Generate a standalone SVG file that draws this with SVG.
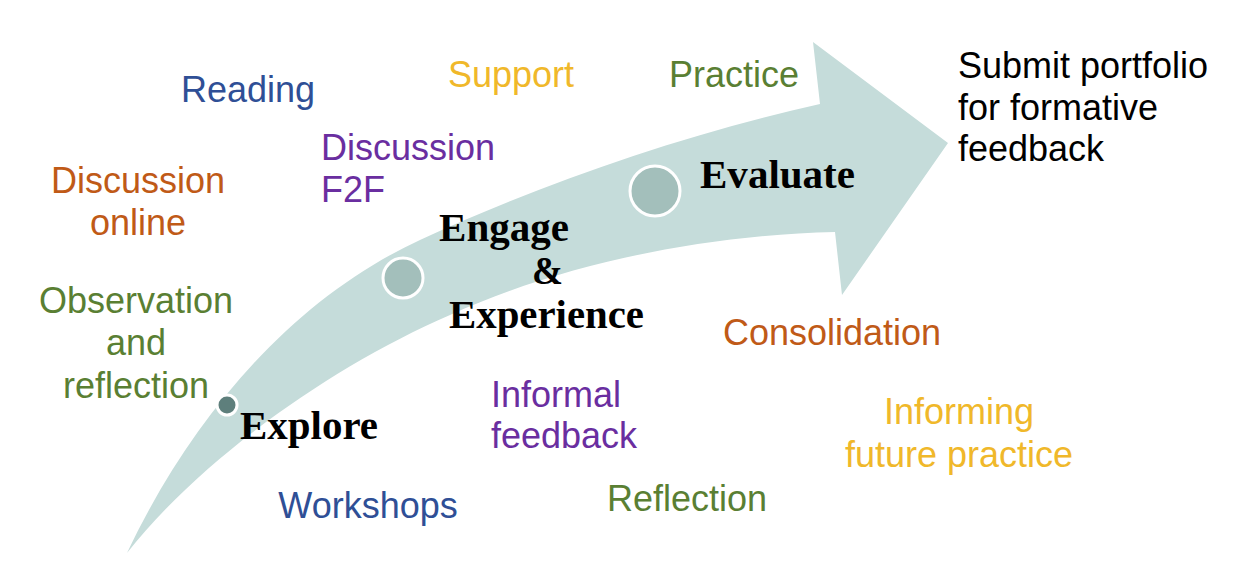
<svg xmlns="http://www.w3.org/2000/svg" width="1251" height="581" viewBox="0 0 1251 581">
<style>
.lbl{font-family:"Liberation Sans",Arial,sans-serif;font-size:36px}
.stage{font-family:"Liberation Serif","Times New Roman",serif;font-size:41px;font-weight:bold;fill:#000}
.blue{fill:#2F4F96}.orange{fill:#C05A17}.green{fill:#5A7F33}.purple{fill:#6A2EA0}.gold{fill:#F0B82A}
.dot{stroke:#fff;stroke-width:3}
</style>
<rect width="1251" height="581" fill="#fff"/>
<g id="connectors">
<path id="arrow" d="M127,553 C190,420 290,300 420,240 C540,185 680,135 820,104 L813,42 L948,143 L842,295 L835,232 C700,235 560,265 450,315 C330,367 200,460 127,553 Z" fill="#C5DCDA"/>
</g>
<g id="explore">
<circle class="dot" cx="227" cy="405" r="10" fill="#5E7F7C"/>
<text class="stage" x="240" y="439" textLength="138" lengthAdjust="spacingAndGlyphs">Explore</text>
</g>
<g id="engage">
<circle class="dot" cx="403" cy="278" r="20" fill="#A3BFBB"/>
<text class="stage" x="439" y="241" textLength="130" lengthAdjust="spacingAndGlyphs">Engage</text>
<text class="stage" x="532" y="284" textLength="31" lengthAdjust="spacingAndGlyphs">&amp;</text>
<text class="stage" x="449" y="328" textLength="195" lengthAdjust="spacingAndGlyphs">Experience</text>
</g>
<g id="evaluate">
<circle class="dot" cx="655" cy="191" r="25" fill="#A3BFBB"/>
<text class="stage" x="700" y="188" textLength="155" lengthAdjust="spacingAndGlyphs">Evaluate</text>
</g>
<g id="submit">
<text class="lbl" fill="#000" x="958" y="78">Submit portfolio</text>
<text class="lbl" fill="#000" x="958" y="120">for formative</text>
<text class="lbl" fill="#000" x="958" y="161">feedback</text>
</g>
<g id="reading"><text class="lbl blue" x="248" y="102" text-anchor="middle">Reading</text></g>
<g id="support"><text class="lbl gold" x="511" y="87" text-anchor="middle">Support</text></g>
<g id="practice"><text class="lbl green" x="734" y="87" text-anchor="middle">Practice</text></g>
<g id="discussion-f2f">
<text class="lbl purple" x="321" y="160">Discussion</text>
<text class="lbl purple" x="321" y="202">F2F</text>
</g>
<g id="discussion-online">
<text class="lbl orange" x="138" y="193" text-anchor="middle">Discussion</text>
<text class="lbl orange" x="138" y="235" text-anchor="middle">online</text>
</g>
<g id="observation">
<text class="lbl green" x="136" y="313" text-anchor="middle">Observation</text>
<text class="lbl green" x="136" y="355" text-anchor="middle">and</text>
<text class="lbl green" x="136" y="398" text-anchor="middle">reflection</text>
</g>
<g id="workshops"><text class="lbl blue" x="368" y="518" text-anchor="middle">Workshops</text></g>
<g id="informal">
<text class="lbl purple" x="491" y="407">Informal</text>
<text class="lbl purple" x="491" y="448">feedback</text>
</g>
<g id="reflection"><text class="lbl green" x="687" y="511" text-anchor="middle">Reflection</text></g>
<g id="consolidation"><text class="lbl orange" x="832" y="345" text-anchor="middle">Consolidation</text></g>
<g id="informing">
<text class="lbl gold" x="959" y="424" text-anchor="middle">Informing</text>
<text class="lbl gold" x="959" y="467" text-anchor="middle">future practice</text>
</g>
</svg>
